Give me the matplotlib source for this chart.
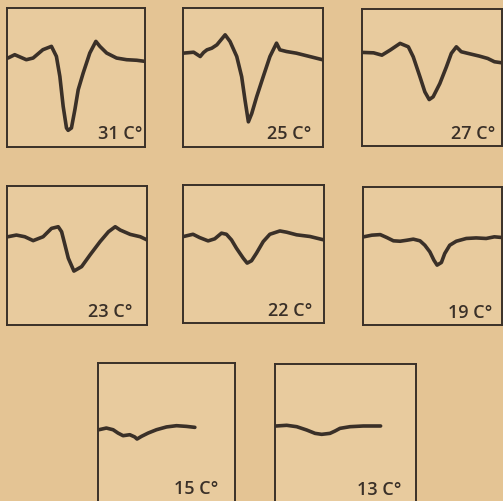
import matplotlib
matplotlib.use("Agg")
import matplotlib.pyplot as plt

# traces: x in % of panel width, y in % of panel height
t31 = [0.7, 5.6, 14, 18.9, 26, 32.2, 35.8, 38.3, 40.7, 43.1, 44.3, 46.7, 49.2, 51.6, 55.2, 60, 64.4, 67.3, 72.2, 79.4, 86.7, 94, 100]
v31 = [64, 66.4, 62.8, 64, 70, 72.4, 65.2, 50.8, 29.3, 13.7, 12, 13.7, 26.9, 41.2, 53.2, 67.6, 76, 72.4, 67.6, 64, 62.8, 62.4, 61.6]

t25 = [0, 7.6, 12.3, 14.7, 17.1, 20.6, 24.2, 30.1, 33.6, 38.4, 41.9, 44.3, 46.7, 49.1, 52.6, 57.3, 62.1, 66.8, 69.2, 73.9, 81, 90.5, 100]
v25 = [67.5, 68.2, 65.1, 68, 69.9, 71.1, 73.5, 80.7, 75.9, 65.1, 50.6, 33.7, 18.1, 24.1, 36.1, 50.6, 65.1, 74.7, 69.9, 68.7, 67.5, 65.1, 62.7]

t27 = [0.7, 8.3, 14.2, 20.1, 27.2, 33.1, 36.6, 41.4, 44.9, 48, 50.8, 55.6, 60.3, 63.8, 67.4, 70.9, 75.7, 83.9, 89.8, 94.6, 100]
v27 = [68.3, 68, 66.3, 70, 74.9, 72.4, 65.1, 50.5, 39.5, 33.9, 35.9, 45.6, 57.8, 67.6, 72.4, 68.8, 67.6, 65.6, 63.9, 61.5, 60.7]

t23 = [0.7, 6.7, 12.7, 18.7, 25.8, 31.8, 36.6, 39, 41.4, 43.8, 47.8, 53.3, 59.3, 66.5, 72.5, 77.3, 80.9, 88, 95.2, 100]
v23 = [63.5, 64.7, 63.5, 60.7, 63.5, 69.5, 70.7, 67.1, 57.6, 48, 38.8, 42, 50.4, 60, 67.1, 70.7, 68.3, 65.2, 63.5, 61.2]

t22 = [0.5, 7.1, 11.8, 17.8, 22.5, 27.3, 30.8, 34.4, 37.9, 42.7, 45.5, 48.6, 52.1, 56.9, 61.6, 68.7, 73.5, 80.6, 90, 100]
v22 = [62.7, 64.3, 61.9, 59.5, 61, 65.1, 64.3, 60.2, 54.2, 47, 43.4, 45.1, 50.6, 59, 64.3, 66.7, 65.8, 63.9, 62.7, 60.2]

t19 = [0.5, 6.4, 12.4, 17.1, 21.9, 26.7, 31.4, 36.2, 41, 44.5, 48.1, 51, 53.3, 56.4, 58.8, 62.4, 67.1, 74.3, 81.4, 88.6, 94.5, 100]
v19 = [63.9, 65.1, 65.5, 63.4, 61, 60.7, 61.4, 62.2, 61, 57.8, 53, 47, 43.4, 45.3, 51.8, 57.8, 60.7, 62.7, 63.1, 62.7, 63.9, 63.4]

t15 = [0.7, 6.1, 11, 14.6, 18.3, 23.2, 26.8, 28.5, 31.7, 36.6, 42.7, 50, 57.3, 64.6, 70.7]
v15 = [52, 53.2, 52, 49.6, 47.7, 48.4, 46.8, 45.3, 47.2, 49.6, 52, 54, 54.9, 54.4, 53.7]

t13 = [0.7, 8.3, 15.4, 22.5, 28.4, 33.1, 39, 42.6, 46.1, 53.2, 62.6, 74.9]
v13 = [55.4, 55.9, 54.9, 52.5, 50.1, 49.4, 50.1, 51.8, 53.7, 54.9, 55.4, 55.4]

labels = ["31 C°", "25 C°", "27 C°", "23 C°", "22 C°", "19 C°", "15 C°", "13 C°"]
traces = [(t31, v31), (t25, v25), (t27, v27), (t23, v23),
          (t22, v22), (t19, v19), (t15, v15), (t13, v13)]

# panel boxes in pixels: left, top, right, bottom
W, H = 503, 501
boxes = [(7, 8, 145, 147), (183, 8, 323, 147), (362, 9, 502, 146),
         (7, 186, 147, 325), (183, 185, 324, 323), (363, 187, 502, 325),
         (98, 363, 235, 502), (275, 364, 416, 503)]
label_x = [98, 92, 95, 90, 92, 93, 88, 90]

bg = "#e4c494"
panel_bg = "#e8cb9e"
ink = "#3a3028"

fig = plt.figure(figsize=(W / 100, H / 100), dpi=100, facecolor=bg)

for (t, v), (l, tp, r, b), lab, lx in zip(traces, boxes, labels, label_x):
    ax = fig.add_axes([l / W, 1 - b / H, (r - l) / W, (b - tp) / H])
    ax.set_facecolor(panel_bg)
    ax.plot(t, v, color=ink, lw=2.6, solid_joinstyle="round", solid_capstyle="round")
    ax.set_xlim(0, 100)
    ax.set_ylim(0, 100)
    ax.set_xticks([])
    ax.set_yticks([])
    for s in ax.spines.values():
        s.set_color(ink)
        s.set_linewidth(1.4)
    ax.text(lx, 9, lab, ha="right", va="center", fontsize=13,
            family="Open Sans", fontweight="semibold", color=ink)

fig.savefig("out.png", dpi=100, facecolor=bg)
